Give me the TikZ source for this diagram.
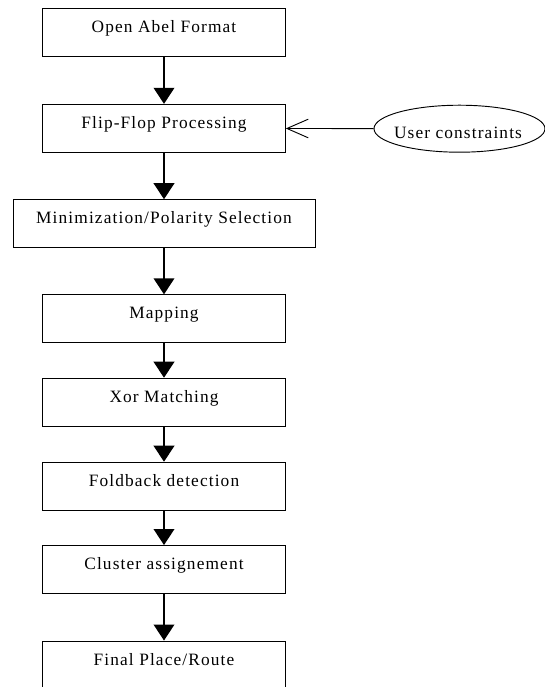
\documentclass[tikz,border=0pt]{standalone}
\usepackage{fontspec}
\setmainfont{Liberation Serif}[LetterSpace=6.5]
\usetikzlibrary{arrows.meta,shapes.geometric}

\tikzset{
  stepbox/.style={draw, line width=0.7pt, minimum width=182pt, minimum height=36pt, inner sep=0pt,
    font=\fontsize{13pt}{15pt}\selectfont, text height=8pt, text depth=8pt},
  widebox/.style={stepbox, minimum width=226.5pt},
  flowarr/.style={-{Triangle[length=12pt,width=15.5pt]}, line width=1.1pt},
  openarr/.style={-{Straight Barb[length=16pt,width=14pt]}, line width=0.7pt}
}

\begin{document}
\begin{tikzpicture}[x=0.75pt,y=0.75pt,yscale=-1]
\useasboundingbox (0,0) rectangle (545,687);

\node[stepbox] (open) at (164,32.2) {Open Abel Format};
\node[stepbox] (flip) at (164,128.3) {Flip-Flop Processing};
\node[widebox] (minim) at (164,223.7) {Minimization/Polarity Selection};
\node[stepbox] (mapping) at (164,318.8) {Mapping};
\node[stepbox] (xor) at (164,402.2) {Xor Matching};
\node[stepbox] (fold) at (164,486.2) {Foldback detection};
\node[stepbox] (cluster) at (164,569.5) {Cluster assignement};
\node[stepbox] (final) at (164,665) {Final Place/Route};

\node[draw, ellipse, line width=0.7pt, minimum width=128.25pt, minimum height=35.25pt] (user) at (459.5,128.7) {};
\node[anchor=base, inner sep=0pt, font=\fontsize{13pt}{15pt}\selectfont] (usertext) at (458,138.3) {User constraints};

\draw[flowarr] (open) -- (flip);
\draw[flowarr] (flip) -- (minim);
\draw[flowarr] (minim) -- (mapping);
\draw[flowarr] (mapping) -- (xor);
\draw[flowarr] (xor) -- (fold);
\draw[flowarr] (fold) -- (cluster);
\draw[flowarr] (cluster) -- (final);

\draw[openarr] (user) -- (flip);
\end{tikzpicture}
\end{document}
